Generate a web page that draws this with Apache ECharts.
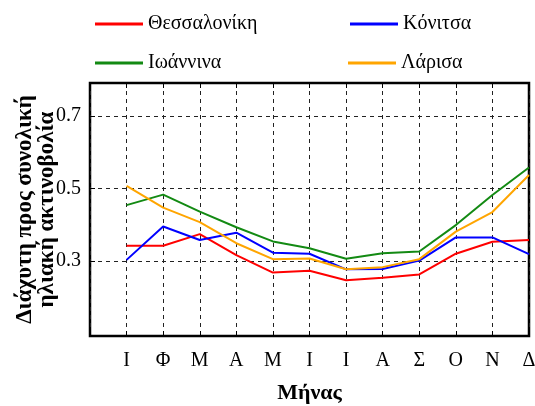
<!DOCTYPE html>
<html><head><meta charset="utf-8">
<script src="https://cdn.jsdelivr.net/npm/echarts@6/dist/echarts.min.js"></script>
<style>html,body{margin:0;padding:0;background:#fff}#c{width:535px;height:406px}</style>
</head><body><div id="c"></div>
<script>
const months = ['Ι','Φ','Μ','Α','Μ','Ι','Ι','Α','Σ','Ο','Ν','Δ'];
const seriesNames = ['Θεσσαλονίκη','Κόνιτσα','Ιωάννινα','Λάρισα'];
const thessaloniki = [0.342,0.342,0.374,0.316,0.268,0.273,0.247,0.254,0.263,0.320,0.353,0.358];
const konitsa = [0.303,0.395,0.358,0.378,0.323,0.320,0.277,0.278,0.301,0.365,0.365,0.319];
const ioannina = [0.454,0.483,0.436,0.393,0.354,0.335,0.306,0.321,0.326,0.399,0.482,0.558];
const larisa = [0.507,0.447,0.407,0.349,0.305,0.307,0.277,0.283,0.305,0.381,0.435,0.537];
const yTicks = [0.3,0.5,0.7];
const colors = ['#ff0000','#0000ff','#138a13','#ffa500'];
const values = [thessaloniki, konitsa, ioannina, larisa];

const font = 'Liberation Serif';
const legendText = {fontFamily:font, fontSize:20, color:'#000'};
const chart = echarts.init(document.getElementById('c'));
const legendPos = [[90,9],[345,9],[90,48],[343,48]];
const legends = seriesNames.map((n,i)=>({
  data:[{name:n, textStyle:legendText}], left:legendPos[i][0], top:legendPos[i][1], itemWidth:48, itemHeight:3, itemGap:10,
  textStyle:legendText, icon:'rect', selectedMode:false
}));
const splitDash = {show:true, lineStyle:{color:'#222', type:[4,4], width:1}};
chart.setOption({
  animation:false,
  textStyle:{fontFamily:font},
  legend: legends,
  grid:{left:90,right:6,top:83,bottom:70,show:true,borderColor:'#000',borderWidth:2.5,backgroundColor:'transparent',
    containLabel:false, outerBoundsMode:'none'},
  xAxis:[{
    type:'value', min:0, max:12, interval:1,
    axisLine:{show:false},
    axisTick:{show:true, inside:true, length:5, lineStyle:{color:'#000'}},
    axisLabel:{fontFamily:font,fontSize:20,color:'#000',margin:15,
      formatter:v=> (v>=1 && v<=12) ? months[Math.round(v)-1] : ''},
    splitLine:splitDash,
    name:'Μήνας', nameLocation:'middle', nameGap:46, nameMoveOverlap:false,
    nameTextStyle:{fontFamily:font,fontSize:22,fontWeight:'bold',color:'#000'}
  },{
    type:'value', position:'top', min:0, max:12, interval:1,
    axisLine:{show:false}, axisLabel:{show:false},
    axisTick:{show:true, inside:true, length:5, lineStyle:{color:'#000'}},
    splitLine:{show:false}
  }],
  yAxis:[{
    type:'value', min:0.093, max:0.791,
    axisLine:{show:false},
    axisTick:{show:true, inside:true, length:5, customValues:yTicks, lineStyle:{color:'#000'}},
    axisLabel:{customValues:yTicks, fontFamily:font,fontSize:20,color:'#000',margin:9,formatter:v=>v.toFixed(1)},
    splitLine:splitDash,
    name:'Διάχυτη προς συνολική\nηλιακή ακτινοβολία', nameLocation:'middle', nameGap:32, nameMoveOverlap:false,
    nameTextStyle:{fontFamily:font,fontSize:23,fontWeight:'bold',color:'#000',lineHeight:22}
  }],
  series: seriesNames.map((n,i)=>({
    name:n, type:'line', symbol:'none', xAxisIndex:0, yAxisIndex:0,
    lineStyle:{color:colors[i], width:2}, itemStyle:{color:colors[i]},
    data: values[i].map((v,j)=>[j+1, v])
  }))
});
</script></body></html>
